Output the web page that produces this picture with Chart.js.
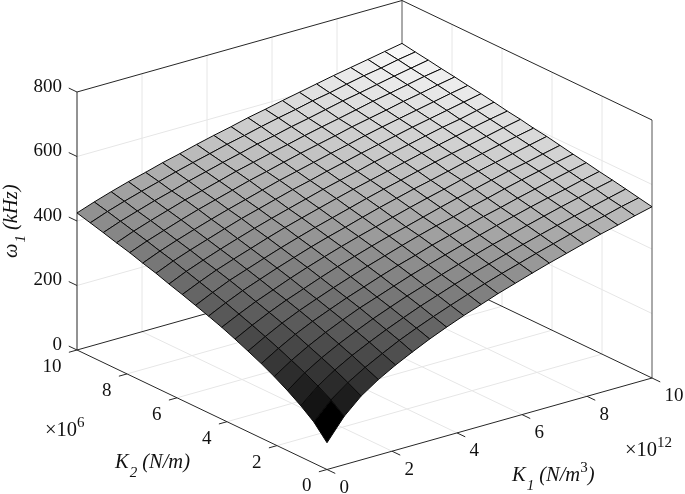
<!DOCTYPE html>
<html>
<head>
<meta charset="utf-8">
<style>
  html, body { margin: 0; padding: 0; background: #fff; }
  canvas { display: block; }
</style>
<script src="https://cdn.jsdelivr.net/npm/chart.js@4/dist/chart.umd.min.js"></script>
</head>
<body>
<canvas id="surface" width="685" height="494"></canvas>
<script>
// Grid of the surface, K1 in 1e12 N/m^3 and K2 in 1e6 N/m
const k1Values = [0, 0.53, 1.05, 1.58, 2.11, 2.63, 3.16, 3.68, 4.21, 4.74, 5.26, 5.79, 6.32, 6.84, 7.37, 7.89, 8.42, 8.95, 9.47, 10];
const k2Values = [0, 0.53, 1.05, 1.58, 2.11, 2.63, 3.16, 3.68, 4.21, 4.74, 5.26, 5.79, 6.32, 6.84, 7.37, 7.89, 8.42, 8.95, 9.47, 10];

// omega_1 in kHz, one row per K2 value
const omega = [
    [83, 150, 198, 234, 264, 290, 315, 337, 358, 377, 396, 413, 430, 446, 461, 476, 491, 504, 518, 531],
    [128, 181, 220, 252, 280, 306, 329, 350, 370, 389, 407, 424, 440, 456, 471, 486, 500, 513, 527, 539],
    [159, 205, 240, 270, 296, 320, 342, 363, 382, 401, 418, 434, 450, 465, 480, 494, 508, 521, 534, 547],
    [186, 226, 258, 286, 311, 334, 355, 375, 393, 411, 428, 444, 460, 474, 489, 503, 517, 530, 543, 555],
    [210, 245, 275, 302, 326, 348, 367, 386, 405, 422, 438, 454, 469, 484, 498, 512, 525, 537, 550, 562],
    [231, 263, 292, 317, 339, 360, 379, 398, 416, 432, 449, 464, 479, 493, 506, 520, 533, 546, 558, 570],
    [250, 280, 307, 331, 352, 372, 391, 409, 426, 443, 459, 474, 487, 502, 515, 529, 542, 554, 566, 577],
    [268, 296, 321, 344, 364, 384, 403, 420, 437, 453, 467, 482, 497, 511, 524, 537, 550, 561, 573, 585],
    [285, 311, 335, 356, 377, 396, 414, 431, 447, 462, 477, 492, 506, 519, 533, 545, 557, 569, 581, 593],
    [300, 326, 349, 369, 389, 407, 425, 441, 456, 472, 487, 501, 515, 527, 540, 553, 565, 577, 588, 599],
    [314, 339, 362, 381, 400, 418, 435, 451, 466, 481, 496, 510, 523, 536, 549, 561, 572, 584, 596, 607],
    [328, 352, 374, 393, 411, 429, 446, 461, 476, 491, 505, 518, 531, 544, 557, 568, 580, 592, 603, 613],
    [341, 365, 385, 404, 422, 439, 455, 470, 485, 500, 513, 526, 540, 552, 564, 576, 588, 598, 610, 621],
    [355, 378, 397, 415, 433, 450, 465, 480, 495, 508, 522, 535, 548, 560, 572, 584, 595, 606, 617, 628],
    [367, 389, 408, 426, 443, 459, 474, 489, 504, 517, 530, 543, 555, 568, 580, 591, 602, 613, 624, 634],
    [380, 401, 419, 437, 454, 469, 484, 499, 512, 526, 539, 551, 563, 576, 587, 598, 610, 620, 631, 641],
    [391, 412, 430, 447, 464, 478, 493, 508, 521, 534, 546, 559, 571, 582, 594, 606, 616, 627, 638, 647],
    [403, 423, 440, 457, 472, 488, 502, 516, 529, 543, 554, 567, 578, 590, 602, 612, 623, 634, 644, 654],
    [414, 434, 451, 467, 482, 497, 511, 524, 538, 550, 563, 575, 586, 598, 608, 620, 631, 640, 651, 660],
    [425, 444, 461, 477, 491, 506, 519, 533, 546, 558, 571, 582, 594, 605, 616, 627, 637, 647, 657, 667]
];

// Axis ticks
const k1Ticks = [0, 2, 4, 6, 8, 10];
const k2Ticks = [0, 2, 4, 6, 8, 10];
const zTicks = [0, 200, 400, 600, 800];

const K_MAX = 10;
const Z_MAX = 800;

// Oblique view of the box: where the front corner lands, and the shift per unit of each axis
const view = {
    originX: 327, originY: 469.5,
    k1X: 32.5, k1Y: -9.15,
    k2X: -25, k2Y: -11.95,
    zY: -258 / 800
};

const project = (k1, k2, z) => ({
    x: view.originX + k1 * view.k1X + k2 * view.k2X,
    y: view.originY + k1 * view.k1Y + k2 * view.k2Y + z * view.zY
});

// Flat gray colormap, black at the lowest value of the surface
const zLow = omega[0][0];
const zHigh = omega[omega.length - 1][k1Values.length - 1];
const grayFor = (z) => {
    const g = Math.round(255 * (z - zLow) / (zHigh - zLow));
    return `rgb(${g}, ${g}, ${g})`;
};

const lineDataset = (from, to, color, width) => ({
    data: [project(...from), project(...to)],
    showLine: true,
    borderColor: color,
    borderWidth: width,
    pointRadius: 0,
    clip: false
});

const GRID_COLOR = '#e6e6e6';
const AXIS_COLOR = '#262626';

// Paint order: walls and floor first, box, then the surface from back to front
const painted = [];

for (const k of [2, 4, 6, 8]) {
    painted.push(lineDataset([k, 0, 0], [k, K_MAX, 0], GRID_COLOR, 1));
    painted.push(lineDataset([0, k, 0], [K_MAX, k, 0], GRID_COLOR, 1));
    painted.push(lineDataset([k, K_MAX, 0], [k, K_MAX, Z_MAX], GRID_COLOR, 1));
    painted.push(lineDataset([K_MAX, k, 0], [K_MAX, k, Z_MAX], GRID_COLOR, 1));
}
for (const z of [200, 400, 600]) {
    painted.push(lineDataset([0, K_MAX, z], [K_MAX, K_MAX, z], GRID_COLOR, 1));
    painted.push(lineDataset([K_MAX, K_MAX, z], [K_MAX, 0, z], GRID_COLOR, 1));
}

// Box edges
painted.push(lineDataset([0, K_MAX, 0], [0, K_MAX, Z_MAX], AXIS_COLOR, 1));
painted.push(lineDataset([K_MAX, K_MAX, 0], [K_MAX, K_MAX, Z_MAX], '#555', 1));
painted.push(lineDataset([K_MAX, 0, 0], [K_MAX, 0, Z_MAX], '#555', 1));
painted.push(lineDataset([0, K_MAX, Z_MAX], [K_MAX, K_MAX, Z_MAX], AXIS_COLOR, 1));
painted.push(lineDataset([K_MAX, K_MAX, Z_MAX], [K_MAX, 0, Z_MAX], AXIS_COLOR, 1));
painted.push(lineDataset([0, K_MAX, 0], [K_MAX, K_MAX, 0], AXIS_COLOR, 1));
painted.push(lineDataset([K_MAX, K_MAX, 0], [K_MAX, 0, 0], AXIS_COLOR, 1));
painted.push(lineDataset([0, K_MAX, 0], [0, 0, 0], AXIS_COLOR, 1));
painted.push(lineDataset([0, 0, 0], [K_MAX, 0, 0], AXIS_COLOR, 1));

// Tick marks
for (const k of k1Ticks) {
    painted.push(lineDataset([k, 0, 0], [k, -0.33, 0], AXIS_COLOR, 1));
}
for (const k of k2Ticks) {
    painted.push(lineDataset([0, k, 0], [-0.25, k, 0], AXIS_COLOR, 1));
}
for (const z of zTicks) {
    painted.push(lineDataset([0, K_MAX, z], [0, K_MAX + 0.33, z], AXIS_COLOR, 1));
}

// One closed shape per mesh cell, colored by its lowest corner
for (let j = k2Values.length - 2; j >= 0; j--) {
    for (let i = k1Values.length - 2; i >= 0; i--) {
        const corners = [
            project(k1Values[i], k2Values[j], omega[j][i]),
            project(k1Values[i + 1], k2Values[j], omega[j][i + 1]),
            project(k1Values[i + 1], k2Values[j + 1], omega[j + 1][i + 1]),
            project(k1Values[i], k2Values[j + 1], omega[j + 1][i])
        ];
        painted.push({
            data: [...corners, corners[0]],
            showLine: true,
            fill: 'shape',
            backgroundColor: grayFor(omega[j][i]),
            borderColor: '#0a0a0a',
            borderWidth: 1,
            pointRadius: 0,
            clip: false
        });
    }
}

// Chart.js paints the first dataset last
const datasets = painted.reverse();

const SERIF = '"Liberation Serif", "Times New Roman", serif';
const TICK_SIZE = 19;
const LABEL_SIZE = 20.5;
const SMALL_SIZE = 15;

// Draw runs of text one after the other, each with its own style and baseline shift
function drawRuns(ctx, x, y, runs) {
    let cursor = x;
    for (const run of runs) {
        ctx.font = `${run.italic ? 'italic ' : ''}${run.size || LABEL_SIZE}px ${SERIF}`;
        ctx.fillText(run.text, cursor, y + (run.dy || 0));
        cursor += ctx.measureText(run.text).width + (run.gap || 0);
    }
}

const axisText = {
    id: 'axisText',
    afterDraw(chart) {
        const { ctx, scales } = chart;
        const at = (p) => ({ x: scales.x.getPixelForValue(p.x), y: scales.y.getPixelForValue(p.y) });

        ctx.save();
        ctx.fillStyle = '#111';
        ctx.textBaseline = 'middle';
        ctx.font = `${TICK_SIZE}px ${SERIF}`;

        ctx.textAlign = 'right';
        for (const z of zTicks) {
            const p = at(project(0, K_MAX, z));
            ctx.fillText(String(z), p.x - 15, p.y - 5);
        }
        for (const k of k2Ticks) {
            const p = at(project(0, k, 0));
            ctx.fillText(String(k), p.x - 15.5, p.y + 17);
        }
        ctx.textAlign = 'left';
        for (const k of k1Ticks) {
            const p = at(project(k, 0, 0));
            ctx.fillText(String(k), p.x + 12.5, p.y + 18.5);
        }

        ctx.textBaseline = 'alphabetic';
        drawRuns(ctx, 45, 436, [
            { text: '×10' },
            { text: '6', size: SMALL_SIZE, dy: -9 }
        ]);
        drawRuns(ctx, 625, 456, [
            { text: '×10' },
            { text: '12', size: SMALL_SIZE, dy: -9 }
        ]);
        drawRuns(ctx, 115, 468, [
            { text: 'K', italic: true, gap: 1 },
            { text: '2', italic: true, size: SMALL_SIZE, dy: 9, gap: 5 },
            { text: '(N/m)', italic: true }
        ]);
        drawRuns(ctx, 512, 481, [
            { text: 'K', italic: true, gap: 1 },
            { text: '1', italic: true, size: SMALL_SIZE, dy: 9, gap: 5 },
            { text: '(N/m', italic: true },
            { text: '3', size: SMALL_SIZE, dy: -9 },
            { text: ')', italic: true }
        ]);

        ctx.translate(17, 258);
        ctx.rotate(-Math.PI / 2);
        drawRuns(ctx, 0, 0, [
            { text: 'ω', italic: true, gap: 1 },
            { text: '1', italic: true, size: SMALL_SIZE, dy: 8, gap: 5 },
            { text: '(kHz)', italic: true }
        ]);
        ctx.restore();
    }
};

new Chart(document.getElementById('surface'), {
    type: 'scatter',
    data: { datasets },
    plugins: [axisText],
    options: {
        responsive: false,
        animation: false,
        layout: { padding: 0 },
        plugins: {
            legend: { display: false },
            tooltip: { enabled: false }
        },
        scales: {
            x: { type: 'linear', display: false, min: 0, max: 685 },
            y: { type: 'linear', display: false, min: 0, max: 494, reverse: true }
        }
    }
});
</script>
</body>
</html>
